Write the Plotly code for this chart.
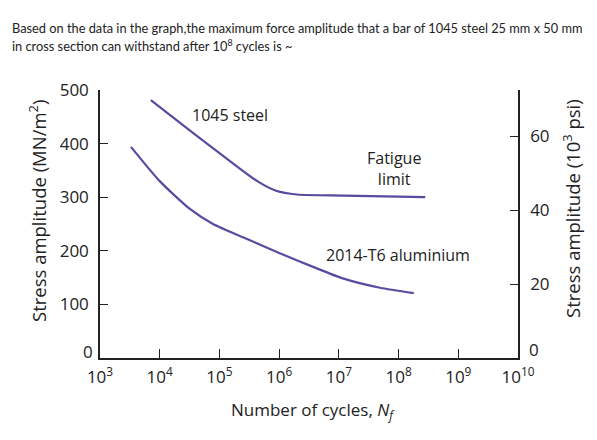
import plotly.graph_objects as go

# ---- data ----
steel_cycles = [7.1e3, 3.6e4, 1.6e5, 4.3e5, 8.9e5, 2.0e6, 1.2e7, 2.8e8]
steel_stress = [481, 420, 365, 330, 312, 305, 303, 300]

al_cycles = [3.3e3, 1.0e4, 3.2e4, 7.8e4, 2.9e5, 1.0e6, 3.7e6, 1.2e7, 4.9e7, 1.8e8]
al_stress = [394, 330, 278, 250, 222, 196, 170, 148, 131, 121]

x_exponents = [3, 4, 5, 6, 7, 8, 9, 10]
x_ticktext = ["10<sup>%d</sup>" % e for e in x_exponents]
left_ticks = [100, 200, 300, 400, 500]   # "0" is drawn as a raised label below
right_ticks = [20, 40, 60]
MPA_PER_KSI = 6.895

LINE = "#5a4aa0"
TXT = "#222222"
FONT = "Open Sans"

W, H = 597, 440
ML, MR, MT, MB = 100, 79, 90, 82
PW, PH = W - ML - MR, H - MT - MB


def px(xp):
    return (xp - ML) / PW


def py(yp):
    return (H - MB - yp) / PH


fig = go.Figure()
fig.add_trace(go.Scatter(x=steel_cycles, y=steel_stress, mode="lines",
                         line=dict(color=LINE, width=2.2, shape="spline", smoothing=0.6),
                         hoverinfo="skip", showlegend=False))
fig.add_trace(go.Scatter(x=al_cycles, y=al_stress, mode="lines",
                         line=dict(color=LINE, width=2.2, shape="spline", smoothing=0.6),
                         hoverinfo="skip", showlegend=False))
# same steel data in ksi, invisible, only to carry the right-hand axis
fig.add_trace(go.Scatter(x=steel_cycles, y=[s / MPA_PER_KSI for s in steel_stress],
                         mode="lines", line=dict(width=0, color=LINE), opacity=0,
                         yaxis="y2", hoverinfo="skip", showlegend=False))

axis_common = dict(
    ticks="inside", tickwidth=1.2, tickcolor=TXT,
    showline=True, linecolor=TXT, linewidth=1.5,
    showgrid=False, zeroline=False, automargin=False,
    tickfont=dict(size=17, color=TXT, family=FONT),
)

fig.update_layout(
    width=W, height=H, autosize=False,
    margin=dict(l=ML, r=MR, t=MT, b=MB, autoexpand=False),
    paper_bgcolor="white", plot_bgcolor="white",
    font=dict(family=FONT, color=TXT, size=14),
    xaxis=dict(type="log", range=[3, 10],
               tickvals=[10**e for e in x_exponents], ticktext=x_ticktext,
               ticklabelstandoff=3, ticklen=9, **axis_common),
    yaxis=dict(range=[0, 500], tickvals=left_ticks, ticklabelstandoff=6, ticklen=8, **axis_common),
    yaxis2=dict(overlaying="y", side="right", anchor="x",
                range=[0, 500 / MPA_PER_KSI], tickvals=right_ticks,
                ticklabelstandoff=7, ticklen=8, **axis_common),
)

# raised zero labels of both stress axes
fig.add_annotation(xref="paper", yref="paper", x=px(95), y=py(351), xanchor="right", yanchor="middle",
                   text="0", showarrow=False, font=dict(size=17, color=TXT))
fig.add_annotation(xref="paper", yref="paper", x=px(527), y=py(349), xanchor="left", yanchor="middle",
                   text="0", showarrow=False, font=dict(size=17, color=TXT))

# question text (two lines)
fig.add_annotation(xref="paper", yref="paper", x=px(10), y=py(28), xanchor="left", yanchor="middle",
                   text="Based on the data in the graph,the maximum force amplitude that a bar of 1045 steel 25 mm x 50 mm",
                   showarrow=False, font=dict(family="Lato", size=12.8, color=TXT))
fig.add_annotation(xref="paper", yref="paper", x=px(10), y=py(46), xanchor="left", yanchor="middle",
                   text="in cross section can withstand after 10<sup>8</sup> cycles is ~",
                   showarrow=False, font=dict(family="Lato", size=12.8, color=TXT))

# axis titles
fig.add_annotation(xref="paper", yref="paper", x=px(313), y=py(410),
                   xanchor="center", yanchor="middle",
                   text="Number of cycles, <i>N<sub>f</sub></i>", showarrow=False,
                   font=dict(size=17, color=TXT))
fig.add_annotation(xref="paper", yref="paper", x=px(37), y=py(211), textangle=-90,
                   xanchor="center", yanchor="middle",
                   text="Stress amplitude (MN/m<sup>2</sup>)", showarrow=False,
                   font=dict(size=18.5, color=TXT))
fig.add_annotation(xref="paper", yref="paper", x=px(571), y=py(209), textangle=-90,
                   xanchor="center", yanchor="middle",
                   text="Stress amplitude (10<sup>3</sup> psi)", showarrow=False,
                   font=dict(size=18.5, color=TXT))

# curve labels
fig.add_annotation(x=5.18, y=453, text="1045 steel", showarrow=False,
                   xanchor="center", yanchor="middle", font=dict(size=16, color=TXT))
fig.add_annotation(x=7.92, y=354, text="Fatigue<br>limit", showarrow=False,
                   xanchor="center", yanchor="middle",
                   font=dict(size=16, color=TXT), align="center")
fig.add_annotation(x=7.99, y=192, text="2014-T6 aluminium", showarrow=False,
                   xanchor="center", yanchor="middle", font=dict(size=16, color=TXT))

fig.write_html("out.html", config={"displayModeBar": False},
               post_script="document.body.style.margin='0px';document.body.style.overflow='hidden';")
